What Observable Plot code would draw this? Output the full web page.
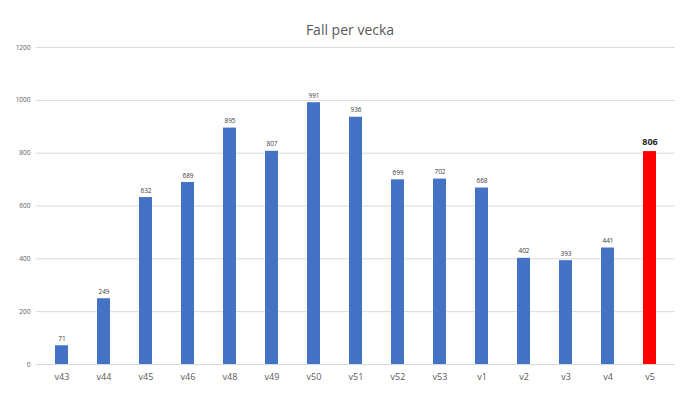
<!DOCTYPE html>
<html>
<head>
<meta charset="utf-8">
<script src="https://cdn.jsdelivr.net/npm/d3@7"></script>
<script src="https://cdn.jsdelivr.net/npm/@observablehq/plot@0.6"></script>
<style>
  html, body { margin: 0; padding: 0; background: #fff; }
  #title { height: 40px; box-sizing: border-box; padding-top: 21px; line-height: 18px; text-align: center;
           font-family: "Open Sans", "Noto Sans", sans-serif; font-size: 14px; color: #595959; width: 700px; }
</style>
</head>
<body>
<div id="title">Fall per vecka</div>
<div id="chart"></div>
<script>
const weeks = ["v43","v44","v45","v46","v48","v49","v50","v51","v52","v53","v1","v2","v3","v4","v5"];
const cases = [71, 249, 632, 689, 895, 807, 991, 936, 699, 702, 668, 402, 393, 441, 806];
const highlight = "v5";
const yTicks = [0, 200, 400, 600, 800, 1000, 1200];

const data = weeks.map((w, i) => ({week: w, value: cases[i], hi: w === highlight}));

const chart = Plot.plot({
  width: 700,
  height: 354,
  marginLeft: 36,
  marginRight: 25,
  marginTop: 7,
  marginBottom: 30,
  style: {fontFamily: "'Open Sans', 'Noto Sans', sans-serif", background: "#fff"},
  x: {domain: weeks, paddingInner: 0.69, paddingOuter: 0.36, label: null},
  y: {domain: [0, 1200], ticks: yTicks, label: null},
  marks: [
    Plot.gridY(yTicks, {stroke: "#d9d9d9", strokeOpacity: 1}),
    Plot.axisY({ticks: yTicks, tickSize: 0, tickPadding: 6, fontSize: 6.5, fill: "#595959", label: null, tickFormat: d => String(d)}),
    Plot.axisX({tickSize: 0, tickPadding: 9, fontSize: 9, fill: "#595959", label: null}),
    Plot.barY(data, {x: "week", y: "value", fill: d => d.hi ? "#FF0000" : "#4472C4"}),
    Plot.text(data.filter(d => !d.hi), {x: "week", y: "value", text: d => String(d.value), dy: -7, fontSize: 6.5, fill: "#404040"}),
    Plot.text(data.filter(d => d.hi), {x: "week", y: "value", text: d => String(d.value), dy: -9, fontSize: 9, fontWeight: "bold", fill: "#262626"})
  ]
});
document.getElementById("chart").appendChild(chart);
</script>
</body>
</html>
